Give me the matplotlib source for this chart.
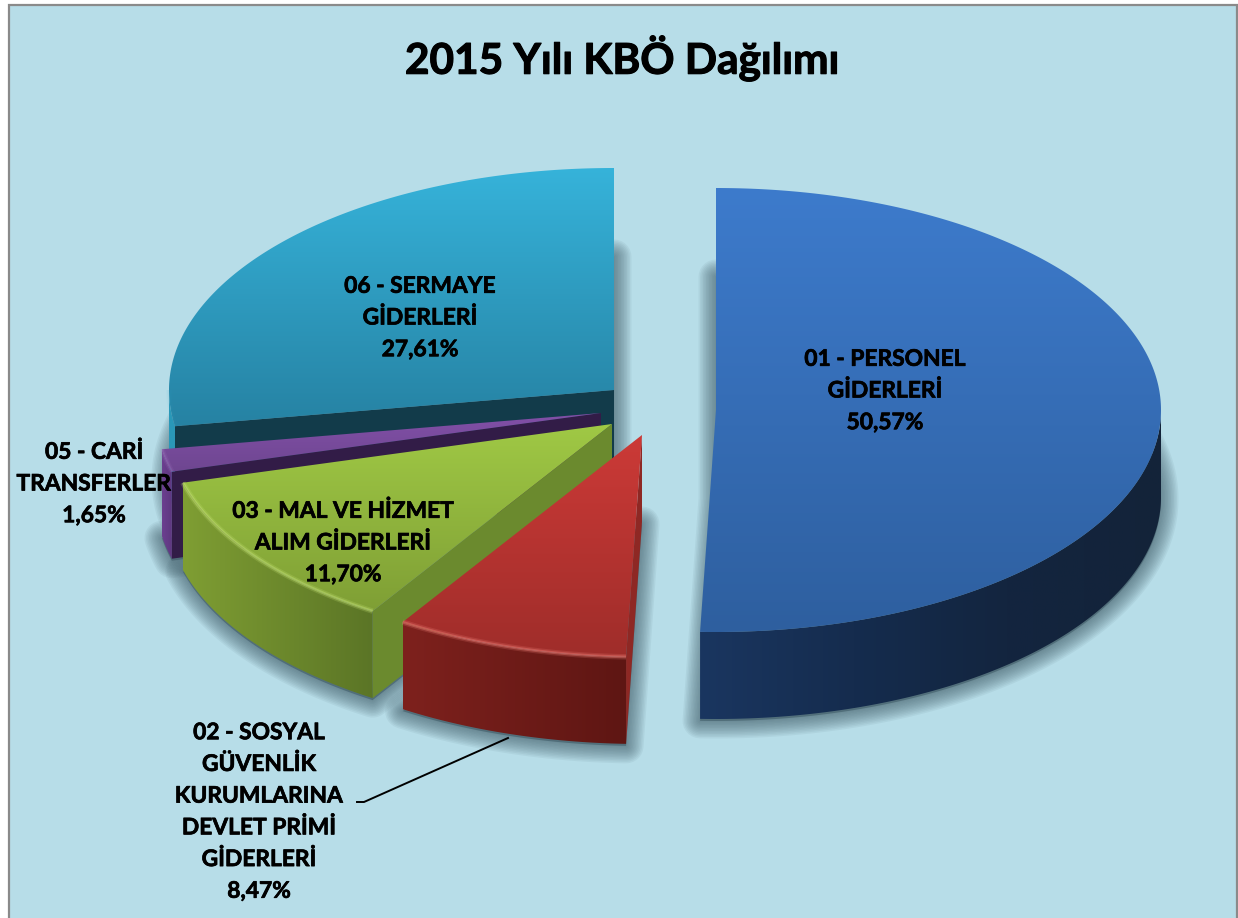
import numpy as np
import matplotlib
matplotlib.use('Agg')
import matplotlib.pyplot as plt
import matplotlib.patheffects as pe
from matplotlib.colors import LinearSegmentedColormap
from matplotlib.patches import Polygon, Rectangle

# data
names = ['01 - PERSONEL\nGİDERLERİ', '02 - SOSYAL\nGÜVENLİK\nKURUMLARINA\nDEVLET PRİMİ\nGİDERLERİ',
         '03 - MAL VE HİZMET\nALIM GİDERLERİ', '05 - CARİ\nTRANSFERLER', '06 - SERMAYE\nGİDERLERİ']
shares = [50.57, 8.47, 11.70, 1.65, 27.61]
title = '2015 Yılı KBÖ Dağılımı'

# layout, in pixels of the picture
centers = [(716, 410), (642, 435), (612, 424), (601, 413), (614, 390)]
rx, ry = 445, 222
depth = 87
label_pos = [(885, 391), (259, 812), (343, 543), (94, 484), (420, 318)]

top_cols = [['#3D7BCC', '#2E5F9F'], ['#CC3A37', '#9F2D2A'], ['#A0C945', '#7F9F35'],
            ['#8250A8', '#6E4690'], ['#36B3DA', '#2682A3']]
wall_cols = [['#1A3660', '#152C4E', '#13253F', '#132339'], ['#7E211D', '#5E1613'],
             ['#7F9E33', '#5B7526'], ['#6C4090', '#5E3780'], ['#2A98B8', '#2A98B8']]
inner_cols = ['#22406B', '#8E2824', '#6B8A2E', '#321C47', '#123B4A']
rim_cols = ['#4F86D2', '#EE8078', '#C8E678', '#A87CC8', '#36A8CC']
rim_alpha = [0, 1, 1, 0.6, 0.2]
bg = '#B7DDE8'

edges = np.concatenate([[0], np.cumsum(shares)]) * 3.6
edges[-1] = 360


def arc(c, a, b):
    th = np.radians(np.linspace(a, b, max(int(abs(b - a)) * 2, 8)))
    return np.column_stack([c[0] + rx * np.sin(th), c[1] - ry * np.cos(th)])


def grad_fill(ax, pts, cols, vertical=True):
    # gradient image cut to the polygon
    cm = LinearSegmentedColormap.from_list('g', cols)
    t = np.linspace(0, 1, 256)
    img = t[:, None] if vertical else t[None, :]
    x0, y0 = pts.min(axis=0)
    x1, y1 = pts.max(axis=0)
    im = ax.imshow(img, cmap=cm, extent=(x0, x1, y1, y0), aspect='auto', zorder=3, interpolation='bilinear')
    p = Polygon(pts, closed=True, fc='none', ec='none', transform=ax.transData)
    ax.add_patch(p)
    im.set_clip_path(p)


def shadow(ax, pts):
    # soft edge from stacked strokes
    for w in np.arange(2, 36, 3):
        ax.add_patch(Polygon(pts, closed=True, fc='none', ec='#3E5A66', alpha=0.07, lw=w * 0.72,
                             joinstyle='round', zorder=2))
    ax.add_patch(Polygon(pts, closed=True, fc='#3E5A66', ec='none', alpha=0.6, zorder=2))


fig = plt.figure(figsize=(12.38, 9.18), dpi=100, facecolor='white')
ax = fig.add_axes([0, 0, 1, 1])
ax.axis('off')
ax.add_patch(Rectangle((9, 5), 1227.5, 930, fc=bg, ec='#8A8A8A', lw=1.6, zorder=1))

# shadows go under everything
for i, c in enumerate(centers):
    face = np.vstack([[c], arc(c, edges[i], edges[i + 1])])
    shadow(ax, face + [0, depth + 2])

# back to front
for i in [4, 3, 2, 1, 0]:
    c = centers[i]
    a, b = edges[i], edges[i + 1]
    outer = arc(c, a, b)
    # radial side that faces us
    if a > 180:
        e = outer[0]
        side = np.array([c, e, e + [0, depth], np.array(c) + [0, depth]])
        ax.add_patch(Polygon(side, closed=True, fc=inner_cols[i], ec='none', zorder=3))
    # outer wall, front half only
    w0, w1 = max(a, 90), min(b, 270)
    if w1 > w0:
        f = arc(c, w0, w1)
        wall = np.vstack([f, f[::-1] + [0, depth]])
        grad_fill(ax, wall, wall_cols[i], vertical=False)
    face = np.vstack([[c], outer])
    grad_fill(ax, face, top_cols[i])
    if w1 > w0 and rim_alpha[i] > 0:
        f = arc(c, w0, w1)
        for lw, al in [(4, 0.2), (2, 0.4)]:
            ax.plot(f[:, 0], f[:, 1], color=rim_cols[i], lw=lw, alpha=al * rim_alpha[i], zorder=3,
                    solid_capstyle='butt')

# leader of the 02 label
ax.plot([357, 364, 508], [802, 802, 738], color='black', lw=1.4, zorder=4)

heavy = [pe.withStroke(linewidth=0.5, foreground='black')]
for i, n in enumerate(names):
    lab = n + '\n' + f'{shares[i]:.2f}'.replace('.', ',') + '%'
    ax.text(label_pos[i][0], label_pos[i][1], lab, ha='center', va='center', family='Lato', weight='bold',
            fontsize=16.4, linespacing=1.63, color='black', zorder=5, path_effects=heavy)

ax.text(622, 58, title, ha='center', va='center', family='Lato', weight='bold', fontsize=30.5, color='black',
        zorder=5, path_effects=[pe.withStroke(linewidth=0.8, foreground='black')])

ax.set_xlim(0, 1238)
ax.set_ylim(918, 0)
fig.savefig('out.png', dpi=100, facecolor='white')
